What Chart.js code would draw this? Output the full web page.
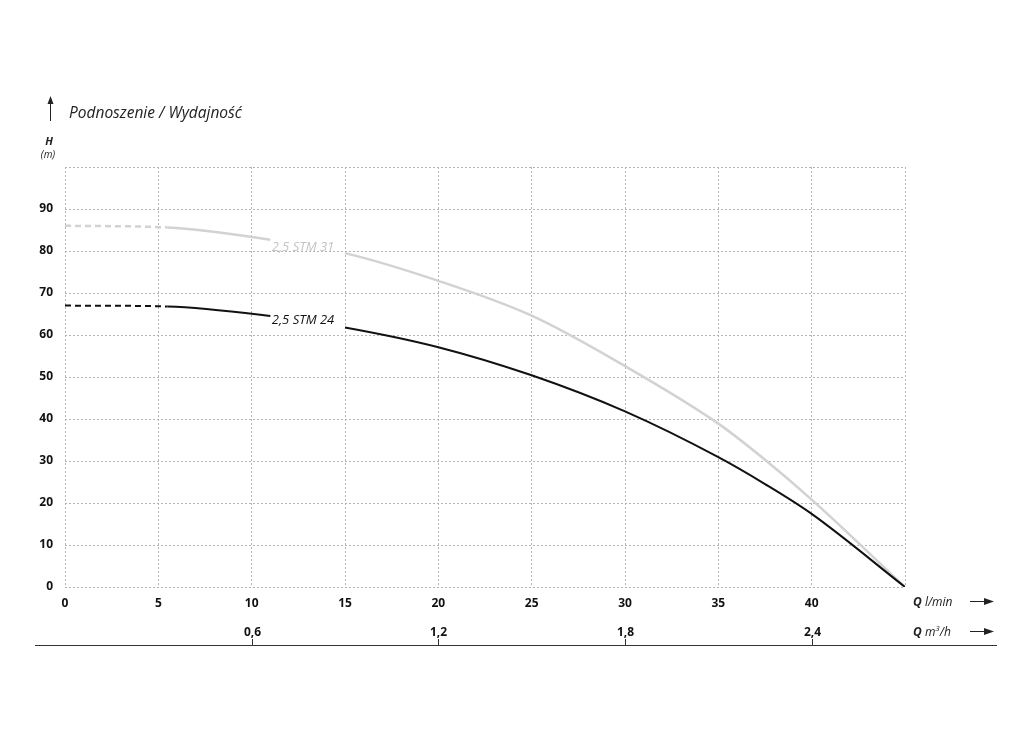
<!DOCTYPE html>
<html>
<head>
<meta charset="utf-8">
<script src="https://cdn.jsdelivr.net/npm/chart.js@4.4.1/dist/chart.umd.min.js"></script>
<style>
html,body{margin:0;padding:0;background:#fff;}
#wrap{position:relative;width:1024px;height:732px;}
</style>
</head>
<body>
<div id="wrap"><canvas id="c" width="1024" height="732"></canvas></div>
<script>
// Flow Q (l/min)
const flowLmin = [0, 5.5, 11, 15, 20, 25, 30, 35, 37.5, 40, 45];
// Head H (m)
const headSTM24 = [67, 66.8, 64.5, 61.8, 57.1, 50.4, 41.8, 30.9, 24.5, 17.4, 0];
const headSTM31 = [86, 85.6, 82.7, 79.5, 72.9, 64.6, 52.6, 38.9, 30.3, 20.8, 0];
const seriesNames = ['2,5 STM 24', '2,5 STM 31'];
// dashed portion ends at this flow; label gap between these flows
const dashedUntil = 5.5;
const labelGap = [11, 15];
const labelAnchor = [[12.75, 63.6], [12.75, 80.8]];
// tick labels
const yTicks = [0, 10, 20, 30, 40, 50, 60, 70, 80, 90];
const xTicks = [0, 5, 10, 15, 20, 25, 30, 35, 40];
const m3hTickValues = [0.6, 1.2, 1.8, 2.4];
const m3hTickLabels = ['0,6', '1,2', '1,8', '2,4'];

const FONT = '"Open Sans", "Noto Sans", sans-serif';
const colors = ['#111111', '#d2d2d2'];
const labelColors = ['#111111', '#c4c4c4'];
const GRID = '#b4b4b4';

function pts(h){ return flowLmin.map((q,i)=>({x:q,y:h[i]})); }

function segStyle(){
  return {
    borderColor: ctx => {
      const a = ctx.p0.parsed.x, b = ctx.p1.parsed.x;
      if (a >= labelGap[0] && b <= labelGap[1]) return 'rgba(0,0,0,0)';
      return undefined;
    },
    borderDash: ctx => (ctx.p1.parsed.x <= dashedUntil ? [6,4] : undefined)
  };
}

const extras = {
  id: 'extras',
  afterDraw(chart){
    const c = chart.ctx, xs = chart.scales.x, ys = chart.scales.y;
    c.save();
    // curve labels
    c.font = 'italic 13px ' + FONT;
    c.textAlign = 'center'; c.textBaseline = 'middle';
    labelAnchor.forEach((p,i)=>{
      c.fillStyle = labelColors[i];
      c.fillText(seriesNames[i], xs.getPixelForValue(p[0]), ys.getPixelForValue(p[1]));
    });
    // title
    c.fillStyle = '#222';
    c.textAlign = 'left'; c.textBaseline = 'alphabetic';
    c.font = 'italic 15.5px ' + FONT;
    c.fillText('Podnoszenie / Wydajność', 69, 118);
    // up arrow
    c.strokeStyle = '#222'; c.lineWidth = 1;
    c.beginPath(); c.moveTo(50.5, 121); c.lineTo(50.5, 102); c.stroke();
    c.beginPath(); c.moveTo(50.5, 96); c.lineTo(47.5, 104); c.lineTo(53.5, 104); c.closePath(); c.fillStyle='#222'; c.fill();
    // H (m)
    c.textAlign = 'center';
    c.font = 'bold italic 11px ' + FONT;
    c.fillText('H', 49, 145);
    c.font = 'italic 10px ' + FONT;
    c.fillText('(m)', 48, 158);
    // Q units
    c.textAlign = 'left';
    const drawQ = (y, unit, sup) => {
      c.font = 'bold italic 12px ' + FONT;
      c.fillText('Q', 913, y);
      let w = c.measureText('Q ').width;
      c.font = 'italic 12px ' + FONT;
      c.fillText(unit, 913 + w, y);
      let w2 = c.measureText(unit).width;
      if (sup) {
        c.font = 'italic 8px ' + FONT;
        c.fillText('3', 913 + w + w2, y - 5);
        let w3 = c.measureText('3').width;
        c.font = 'italic 12px ' + FONT;
        c.fillText('/h', 913 + w + w2 + w3, y);
      }
      c.beginPath(); c.moveTo(970, y - 4.5); c.lineTo(986, y - 4.5); c.stroke();
      c.beginPath(); c.moveTo(994, y - 4.5); c.lineTo(984, y - 8); c.lineTo(984, y - 1); c.closePath(); c.fill();
    };
    drawQ(606, 'l/min', false);
    drawQ(636, 'm', true);
    // m3/h secondary axis
    c.strokeStyle = '#333'; c.lineWidth = 1.2;
    c.beginPath(); c.moveTo(35, 645.5); c.lineTo(997, 645.5); c.stroke();
    c.font = 'bold 12px ' + FONT; c.textAlign = 'center'; c.fillStyle = '#111';
    c.lineWidth = 1;
    m3hTickValues.forEach((v,i)=>{
      const px = Math.round(xs.getPixelForValue(v * 1000 / 60)) + 0.5;
      c.beginPath(); c.moveTo(px, 639); c.lineTo(px, 645); c.stroke();
      c.fillText(m3hTickLabels[i], px, 636);
    });
    c.restore();
  }
};

new Chart(document.getElementById('c'), {
  type: 'line',
  data: {
    datasets: [
      { label: seriesNames[0], data: pts(headSTM24), borderColor: colors[0], borderWidth: 2,
        pointRadius: 0, cubicInterpolationMode: 'monotone', segment: segStyle(), fill: false },
      { label: seriesNames[1], data: pts(headSTM31), borderColor: colors[1], borderWidth: 2.5,
        pointRadius: 0, cubicInterpolationMode: 'monotone', segment: segStyle(), fill: false }
    ]
  },
  options: {
    responsive: false,
    animation: false,
    devicePixelRatio: 1,
    layout: { padding: { top: 167, left: 0, right: 119, bottom: 0 } },
    plugins: { legend: { display: false }, tooltip: { enabled: false } },
    scales: {
      x: {
        type: 'linear', min: 0, max: 45,
        afterFit(s){ s.height = 145; },
        afterBuildTicks(s){ s.ticks = xTicks.concat([45]).map(v=>({value:v})); },
        grid: { color: GRID, lineWidth: 1, drawTicks: false },
        border: { display: false, dash: [2,2] },
        ticks: { padding: 9, color: '#111', font: { family: FONT, weight: 'bold', size: 12 },
          maxRotation: 0, autoSkip: false,
          callback: v => xTicks.includes(v) ? String(v) : '' }
      },
      y: {
        type: 'linear', min: 0, max: 100,
        afterFit(s){ s.width = 65; },
        afterBuildTicks(s){ s.ticks = yTicks.concat([100]).map(v=>({value:v})); },
        grid: { color: GRID, lineWidth: 1, drawTicks: false },
        border: { display: false, dash: [2,2] },
        ticks: { padding: 12, color: '#111', font: { family: FONT, weight: 'bold', size: 12 },
          callback: v => yTicks.includes(v) ? String(v) : '' }
      }
    }
  },
  plugins: [extras]
});
</script>
</body>
</html>
